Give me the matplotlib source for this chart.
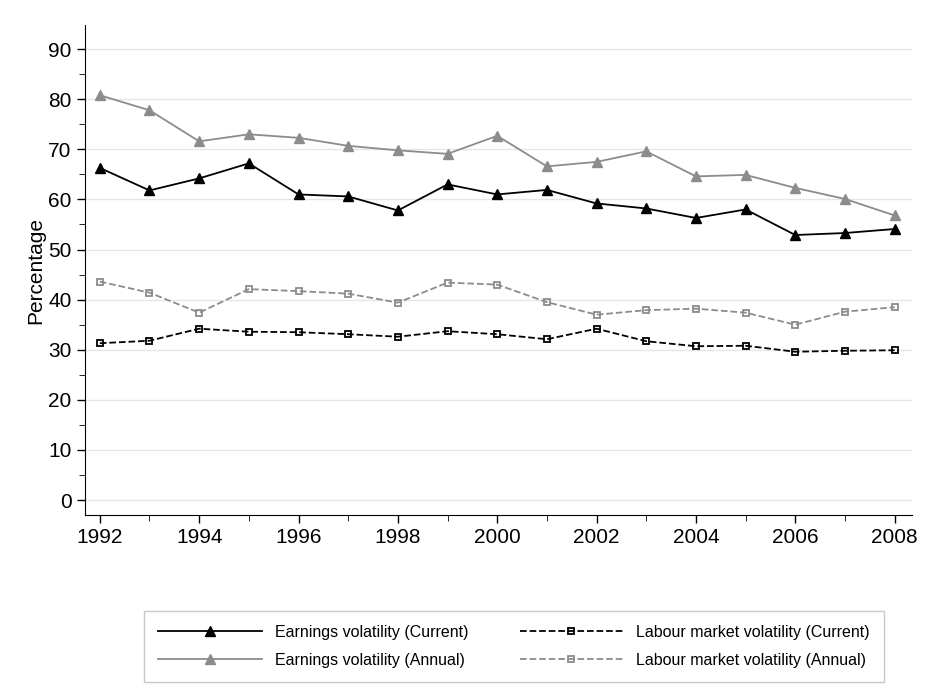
import matplotlib
matplotlib.use("Agg")
import matplotlib.pyplot as plt
from matplotlib.ticker import MultipleLocator

years = list(range(1992, 2009))
earn_current = [66.3, 61.8, 64.2, 67.2, 61.0, 60.6, 57.8, 63.0, 61.0, 61.9, 59.2, 58.2, 56.3, 58.0, 52.9, 53.3, 54.1]
earn_annual = [80.8, 77.8, 71.6, 73.0, 72.3, 70.7, 69.8, 69.1, 72.7, 66.6, 67.5, 69.6, 64.6, 64.9, 62.3, 60.1, 56.8]
lm_current = [31.3, 31.8, 34.2, 33.6, 33.5, 33.1, 32.6, 33.7, 33.1, 32.1, 34.2, 31.7, 30.7, 30.8, 29.6, 29.8, 29.9]
lm_annual = [43.6, 41.4, 37.4, 42.1, 41.7, 41.2, 39.4, 43.4, 43.0, 39.5, 37.0, 37.9, 38.2, 37.4, 35.0, 37.6, 38.5]

plt.rcParams['font.family'] = ['Liberation Sans', 'DejaVu Sans']
fig = plt.figure(figsize=(9.33, 6.97), dpi=100)
ax = fig.add_axes([0.091, 0.261, 0.886, 0.703])

# plot order gives column-first legend: EC, EA | LMC, LMA
ax.plot(years, earn_current, color='black', lw=1.3, marker='^', ms=7, label='Earnings volatility (Current)')
ax.plot(years, earn_annual, color='#8c8c8c', lw=1.3, marker='^', ms=7, label='Earnings volatility (Annual)')
ax.plot(years, lm_current, color='black', lw=1.3, ls='--', marker='s', ms=5, mfc='none', mew=1.3,
        label='Labour market volatility (Current)')
ax.plot(years, lm_annual, color='#8c8c8c', lw=1.3, ls='--', marker='s', ms=5, mfc='none', mew=1.3,
        label='Labour market volatility (Annual)')

ax.set_xlim(1991.7, 2008.34)
ax.set_ylim(-3, 94.8)
ax.set_xticks(range(1992, 2009, 2))
ax.xaxis.set_minor_locator(MultipleLocator(1))
ax.set_yticks(range(0, 91, 10))
ax.yaxis.set_minor_locator(MultipleLocator(5))
ax.tick_params(labelsize=15, length=6, width=1)
ax.tick_params(which='minor', length=4)
ax.grid(axis='y', color='#e6e6e6', lw=1)
ax.set_axisbelow(True)
for s in ['top', 'right']:
    ax.spines[s].set_visible(False)
ax.set_ylabel('Percentage', fontsize=15, labelpad=2)

fig.legend(loc='lower center', bbox_to_anchor=(0.551, 0.01), ncol=2, fontsize=11.5,
           frameon=True, fancybox=False, edgecolor='#bbbbbb', handlelength=6.5,
           columnspacing=3.2, borderpad=0.9, labelspacing=0.8)

fig.savefig('out.png', dpi=100)
